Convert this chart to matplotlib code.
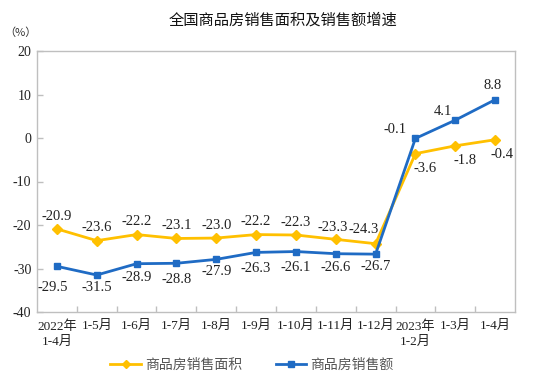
import matplotlib
matplotlib.use("Agg")
import matplotlib.pyplot as plt
from matplotlib.ticker import FixedLocator

categories = ["2022年\n1-4月", "1-5月", "1-6月", "1-7月", "1-8月", "1-9月", "1-10月",
              "1-11月", "1-12月", "2023年\n1-2月", "1-3月", "1-4月"]
area = [-20.9, -23.6, -22.2, -23.1, -23.0, -22.2, -22.3, -23.3, -24.3, -3.6, -1.8, -0.4]
sales = [-29.5, -31.5, -28.9, -28.8, -27.9, -26.3, -26.1, -26.6, -26.7, -0.1, 4.1, 8.8]
yticks = [20, 10, 0, -10, -20, -30, -40]

# label offsets in pixels (dx, dy)
area_off = [(0, 12), (0, 13), (0, 13), (0, 13), (0, 13), (0, 13), (0, 13), (-3, 12), (-12, 14),
            (10, -15), (10, -15), (7, -15)]
sales_off = [(-4, -21), (0, -12), (0, -14), (0, -16), (0, -12), (0, -16), (0, -16), (0, -14), (0, -12),
             (-20, 9), (-12, 9), (-2, 14)]

FAM = ["Liberation Serif", "Noto Sans CJK SC"]
plt.rcParams["font.family"] = FAM
YEL = "#FFC000"
BLU = "#1F6BC4"
GRAY = "#BFBFBF"

fig = plt.figure(figsize=(5.36, 3.77), dpi=100)
ax = fig.add_axes([37/536, 1-312/377, (515-37)/536, (312-51)/377])

x = list(range(len(categories)))
ax.plot(x, area, color=YEL, lw=2.0, marker="D", ms=5, label="商品房销售面积", zorder=3)
ax.plot(x, sales, color=BLU, lw=2.0, marker="s", ms=5, label="商品房销售额", zorder=3)

for i in x:
    dx, dy = area_off[i]
    ax.annotate(f"{area[i]:.1f}", (i, area[i]), xytext=(dx, dy), textcoords="offset pixels",
                ha="center", va="center", fontsize=10.5, family=FAM, color="#222222")
    dx, dy = sales_off[i]
    ax.annotate(f"{sales[i]:.1f}", (i, sales[i]), xytext=(dx, dy), textcoords="offset pixels",
                ha="center", va="center", fontsize=10.5, family=FAM, color="#222222")

ax.set_xlim(-0.5, len(categories) - 0.5)
ax.set_ylim(-40, 20)
ax.set_yticks(yticks)
ax.set_yticklabels([str(v) for v in yticks], fontsize=10, color="#222222")
ax.set_xticks(x)
ax.set_xticklabels(categories, fontsize=9.5, color="#222222", linespacing=1.3)
ax.xaxis.set_minor_locator(FixedLocator([i + 0.5 for i in range(len(categories) - 1)]))
ax.tick_params(axis="x", which="major", length=0, pad=6)
ax.tick_params(axis="x", which="minor", direction="in", length=4, color=GRAY, width=1)
ax.tick_params(axis="y", direction="in", length=4, color=GRAY, width=1, pad=4)
for s in ax.spines.values():
    s.set_color(GRAY)
    s.set_linewidth(1)

fig.text(283/536, 1-20/377, "全国商品房销售面积及销售额增速", ha="center", va="center",
         fontsize=11, family=["Noto Sans CJK SC"], color="#111111")
fig.text(20/536, 1-33/377, "（%）", ha="center", va="center", fontsize=8,
         family=["Noto Sans CJK SC"], color="#333333")

leg = fig.legend(loc="center", bbox_to_anchor=(252/536, 1-365/377), ncol=2, frameon=False,
                 handlelength=2.2, columnspacing=2.4, handletextpad=0.3, markerscale=0.8,
                 prop={"family": ["Noto Sans CJK SC"], "size": 10})
for t in leg.get_texts():
    t.set_color("#555555")

fig.savefig("out.png", dpi=100)
